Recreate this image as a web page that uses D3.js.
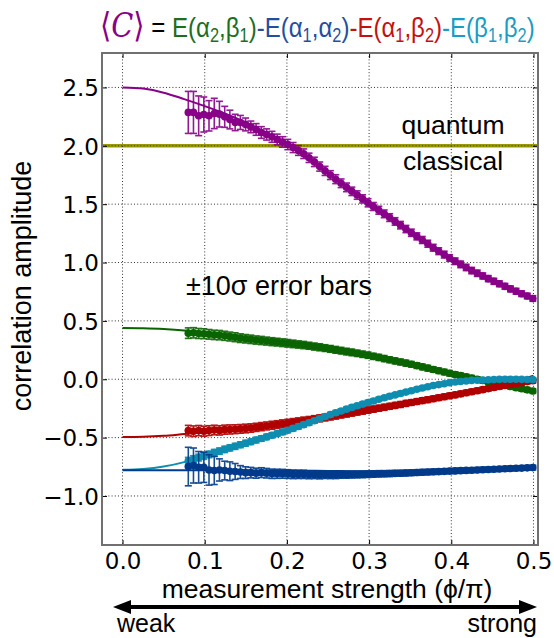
<!DOCTYPE html>
<html><head><meta charset="utf-8">
<script src="https://cdn.jsdelivr.net/npm/d3@7"></script>
<style>body{margin:0;background:#fff}svg{display:block}</style>
</head><body><svg id="c" width="554" height="638"></svg>
<script>
// ---------------- data ----------------
const xTicks = [0.0, 0.1, 0.2, 0.3, 0.4, 0.5];
const yTicks = [-1.0, -0.5, 0.0, 0.5, 1.0, 1.5, 2.0, 2.5];
const classicalBound = 2.0;

const xData = [0.0800,0.0863,0.0926,0.0989,0.1052,0.1116,0.1179,0.1243,0.1306,0.1370,
0.1434,0.1497,0.1561,0.1625,0.1689,0.1753,0.1818,0.1882,0.1946,0.2011,
0.2075,0.2140,0.2204,0.2269,0.2334,0.2399,0.2464,0.2529,0.2594,0.2659,
0.2725,0.2790,0.2855,0.2921,0.2987,0.3052,0.3118,0.3184,0.3250,0.3316,
0.3382,0.3448,0.3514,0.3581,0.3647,0.3714,0.3780,0.3847,0.3914,0.3980,
0.4047,0.4114,0.4181,0.4248,0.4316,0.4383,0.4450,0.4518,0.4585,0.4653,
0.4720,0.4788,0.4856,0.4924,0.4992];

const purpleData = [2.286,2.286,2.257,2.268,2.257,2.277,2.271,2.248,2.225,2.200,
2.200,2.183,2.162,2.140,2.114,2.097,2.077,2.054,2.033,2.011,
1.985,1.960,1.932,1.897,1.862,1.822,1.785,1.749,1.714,1.679,
1.644,1.610,1.578,1.545,1.512,1.480,1.448,1.417,1.385,1.352,
1.320,1.287,1.255,1.224,1.193,1.161,1.127,1.097,1.068,1.039,
1.011,0.984,0.958,0.931,0.908,0.885,0.862,0.839,0.818,0.796,
0.774,0.754,0.733,0.713,0.692];
const purpleErr = [0.18,0.18,0.17,0.15,0.13,0.13,0.11,0.09,0.08,0.07,
0.06,0.055,0.05,0.05,0.05,0.048,0.047,0.046,0.045,0.044,
0.043,0.042,0.041,0.04,0.04,0.039,0.039,0.038,0.038,0.037,
0.037,0.036,0.036,0.035,0.035,0.034,0.034,0.033,0.033,0.032,
0.032,0.031,0.031,0.03,0.03,0.03,0.029,0.029,0.029,0.028,
0.028,0.028,0.027,0.027,0.027,0.026,0.026,0.026,0.025,0.025,
0.025,0.025,0.024,0.024,0.024];

const greenData = [0.395,0.398,0.392,0.390,0.385,0.380,0.378,0.372,0.366,0.360,
0.352,0.347,0.342,0.336,0.332,0.327,0.322,0.318,0.313,0.308,
0.303,0.298,0.293,0.287,0.280,0.274,0.267,0.260,0.252,0.245,
0.237,0.230,0.222,0.214,0.206,0.196,0.187,0.177,0.167,0.157,
0.148,0.138,0.128,0.117,0.106,0.095,0.084,0.073,0.062,0.051,
0.041,0.031,0.020,0.010,-0.001,-0.011,-0.022,-0.033,-0.042,-0.052,
-0.062,-0.072,-0.081,-0.091,-0.101];
const greenErr = [0.045,0.044,0.043,0.042,0.041,0.04,0.04,0.039,0.038,0.038,
0.037,0.036,0.036,0.035,0.035,0.034,0.034,0.033,0.033,0.032,
0.032,0.031,0.031,0.03,0.03,0.03,0.029,0.029,0.029,0.028,
0.028,0.028,0.027,0.027,0.027,0.026,0.026,0.026,0.025,0.025,
0.025,0.025,0.024,0.024,0.024,0.024,0.023,0.023,0.023,0.023,
0.022,0.022,0.022,0.022,0.022,0.021,0.021,0.021,0.021,0.021,
0.02,0.02,0.02,0.02,0.02];

const redData = [-0.440,-0.445,-0.440,-0.445,-0.440,-0.435,-0.438,-0.432,-0.430,-0.428,
-0.425,-0.422,-0.418,-0.412,-0.406,-0.400,-0.394,-0.388,-0.381,-0.375,
-0.369,-0.362,-0.355,-0.349,-0.342,-0.335,-0.328,-0.320,-0.312,-0.304,
-0.296,-0.288,-0.280,-0.272,-0.264,-0.256,-0.248,-0.240,-0.232,-0.224,
-0.216,-0.207,-0.199,-0.191,-0.183,-0.175,-0.167,-0.158,-0.150,-0.142,
-0.134,-0.125,-0.116,-0.107,-0.098,-0.089,-0.080,-0.071,-0.062,-0.053,
-0.045,-0.037,-0.029,-0.020,-0.012];
const redErr = [0.045,0.045,0.044,0.043,0.042,0.041,0.04,0.039,0.039,0.038,
0.037,0.037,0.036,0.035,0.035,0.034,0.034,0.033,0.033,0.032,
0.032,0.031,0.031,0.03,0.03,0.03,0.029,0.029,0.029,0.028,
0.028,0.028,0.027,0.027,0.027,0.026,0.026,0.026,0.025,0.025,
0.025,0.025,0.024,0.024,0.024,0.024,0.023,0.023,0.023,0.023,
0.022,0.022,0.022,0.022,0.022,0.021,0.021,0.021,0.021,0.021,
0.02,0.02,0.02,0.02,0.02];

const cyanData = [-0.699,-0.685,-0.671,-0.657,-0.644,-0.629,-0.616,-0.601,-0.588,-0.575,
-0.561,-0.548,-0.535,-0.521,-0.508,-0.494,-0.480,-0.466,-0.452,-0.437,
-0.421,-0.405,-0.389,-0.373,-0.355,-0.338,-0.320,-0.303,-0.287,-0.272,
-0.256,-0.241,-0.227,-0.213,-0.199,-0.186,-0.172,-0.159,-0.146,-0.134,
-0.122,-0.110,-0.098,-0.086,-0.075,-0.064,-0.054,-0.046,-0.038,-0.029,
-0.024,-0.019,-0.015,-0.010,-0.008,-0.006,-0.004,-0.002,-0.001,0.000,
0.000,0.000,-0.001,-0.002,-0.003];
const cyanErr = [0.03,0.03,0.029,0.029,0.028,0.028,0.027,0.027,0.026,0.026,
0.025,0.025,0.024,0.024,0.023,0.023,0.022,0.022,0.022,0.021,
0.021,0.021,0.02,0.02,0.02,0.02,0.019,0.019,0.019,0.019,
0.018,0.018,0.018,0.018,0.018,0.017,0.017,0.017,0.017,0.017,
0.017,0.016,0.016,0.016,0.016,0.016,0.016,0.016,0.015,0.015,
0.015,0.015,0.015,0.015,0.015,0.015,0.015,0.015,0.015,0.015,
0.015,0.015,0.015,0.015,0.015];

const blueData = [-0.748,-0.739,-0.754,-0.754,-0.777,-0.782,-0.777,-0.782,-0.788,-0.790,
-0.795,-0.800,-0.800,-0.805,-0.800,-0.805,-0.810,-0.810,-0.810,-0.812,
-0.815,-0.815,-0.815,-0.818,-0.818,-0.820,-0.818,-0.820,-0.820,-0.818,
-0.818,-0.817,-0.816,-0.815,-0.813,-0.812,-0.810,-0.809,-0.808,-0.806,
-0.805,-0.803,-0.801,-0.799,-0.797,-0.795,-0.793,-0.791,-0.789,-0.787,
-0.785,-0.783,-0.781,-0.779,-0.777,-0.775,-0.773,-0.771,-0.769,-0.767,
-0.765,-0.763,-0.761,-0.759,-0.757];
const blueErr = [0.165,0.15,0.135,0.13,0.13,0.12,0.095,0.08,0.08,0.068,
0.055,0.05,0.045,0.043,0.042,0.041,0.04,0.039,0.038,0.037,
0.036,0.035,0.035,0.034,0.033,0.033,0.032,0.031,0.031,0.03,
0.03,0.029,0.029,0.028,0.028,0.027,0.027,0.026,0.026,0.025,
0.025,0.025,0.024,0.024,0.024,0.023,0.023,0.023,0.022,0.022,
0.022,0.022,0.021,0.021,0.021,0.021,0.02,0.02,0.02,0.02,
0.02,0.02,0.02,0.02,0.02];

// theory curves
const xTheory = [0,0.025,0.05,0.075,0.1,0.125,0.15,0.175,0.2,0.225,0.25,0.275,0.3,0.325,0.35,0.375,0.4,0.425,0.45,0.475,0.5];
const purpleTheory = [2.50,2.49,2.455,2.40,2.34,2.275,2.20,2.11,2.01,1.89,1.765,1.63,1.505,1.385,1.262,1.14,1.03,0.93,0.845,0.765,0.69];
const greenTheory  = [0.438,0.436,0.430,0.418,0.398,0.375,0.348,0.325,0.308,0.288,0.262,0.235,0.204,0.168,0.130,0.090,0.048,0.007,-0.030,-0.067,-0.102];
const redTheory    = [-0.495,-0.493,-0.485,-0.470,-0.455,-0.440,-0.423,-0.402,-0.380,-0.352,-0.322,-0.291,-0.260,-0.229,-0.198,-0.167,-0.135,-0.100,-0.062,-0.020,0.030];
const cyanTheory   = [-0.776,-0.769,-0.748,-0.710,-0.655,-0.600,-0.548,-0.495,-0.440,-0.378,-0.310,-0.250,-0.196,-0.146,-0.100,-0.058,-0.027,-0.010,-0.002,0.000,-0.003];
const blueTheory   = [-0.780,-0.780,-0.780,-0.780,-0.780,-0.780,-0.781,-0.782,-0.782,-0.783,-0.785,-0.788,-0.790,-0.790,-0.790,-0.788,-0.785,-0.780,-0.773,-0.765,-0.757];

const colors = {purple:"#880088", green:"#0a6400", red:"#b00000", cyan:"#0e8db0", blue:"#003a8a"};

// ---------------- layout ----------------
const svg = d3.select("#c");
const L = 102, R = 538, T = 53, B = 545;
const x = d3.scaleLinear().domain([-0.025, 0.5055]).range([L, R]);
const y = d3.scaleLinear().domain([-1.42, 2.795]).range([B, T]);

// classical bound line
svg.append("line").attr("x1", L).attr("x2", R)
  .attr("y1", y(classicalBound)).attr("y2", y(classicalBound))
  .attr("stroke", "#9a9a00").attr("stroke-width", 3.5);

// grid
const grid = svg.append("g").attr("stroke", "#333").attr("stroke-width", 1).attr("stroke-dasharray", "1,2.2");
xTicks.forEach(t => grid.append("line").attr("x1", x(t)).attr("x2", x(t)).attr("y1", T).attr("y2", B));
yTicks.forEach(t => grid.append("line").attr("x1", L).attr("x2", R).attr("y1", y(t)).attr("y2", y(t)));

// axes with inward ticks
const fmt = d => (d < 0 ? "\u2212" : "") + Math.abs(d).toFixed(1);
const axB = svg.append("g").attr("transform", `translate(0,${B})`)
  .call(d3.axisBottom(x).tickValues(xTicks).tickSize(-5).tickPadding(8).tickFormat(fmt));
const axT = svg.append("g").attr("transform", `translate(0,${T})`)
  .call(d3.axisTop(x).tickValues(xTicks).tickSize(-5).tickFormat(""));
const axL = svg.append("g").attr("transform", `translate(${L},0)`)
  .call(d3.axisLeft(y).tickValues(yTicks).tickSize(-5).tickPadding(3).tickFormat(fmt));
const axR = svg.append("g").attr("transform", `translate(${R},0)`)
  .call(d3.axisRight(y).tickValues(yTicks).tickSize(-5).tickFormat(""));
[axB, axT, axL, axR].forEach(a => {
  a.select(".domain").remove();
  a.selectAll(".tick line").attr("stroke", "#000").attr("stroke-width", 1);
  a.selectAll("text").attr("font-family", "DejaVu Sans").attr("font-size", 23).attr("fill", "#000");
});
axB.selectAll("text").attr("dy", "0.71em");
axL.selectAll("text").attr("dy", "0.36em");

// frame
svg.append("rect").attr("x", L).attr("y", T).attr("width", R - L).attr("height", B - T)
  .attr("fill", "none").attr("stroke", "#707070").attr("stroke-width", 2);

// series
const series = [
  {c: colors.purple, d: purpleData, e: purpleErr, t: purpleTheory},
  {c: colors.green,  d: greenData,  e: greenErr,  t: greenTheory},
  {c: colors.red,    d: redData,    e: redErr,    t: redTheory},
  {c: colors.cyan,   d: cyanData,   e: cyanErr,   t: cyanTheory},
  {c: colors.blue,   d: blueData,   e: blueErr,   t: blueTheory}
];
const line = d3.line().x(d => x(d[0])).y(d => y(d[1])).curve(d3.curveCatmullRom);
series.forEach(s => {
  const g = svg.append("g");
  const pts = xData.map((xv, i) => ({x: xv, v: s.d[i], e: s.e[i]}));
  const eb = g.append("g").attr("stroke", s.c).attr("stroke-width", 1.6).attr("opacity", 0.9);
  pts.forEach(p => {
    eb.append("line").attr("x1", x(p.x)).attr("x2", x(p.x)).attr("y1", y(p.v - p.e)).attr("y2", y(p.v + p.e));
    eb.append("line").attr("x1", x(p.x) - 3.5).attr("x2", x(p.x) + 3.5).attr("y1", y(p.v - p.e)).attr("y2", y(p.v - p.e));
    eb.append("line").attr("x1", x(p.x) - 3.5).attr("x2", x(p.x) + 3.5).attr("y1", y(p.v + p.e)).attr("y2", y(p.v + p.e));
  });
  g.selectAll("circle").data(pts).join("circle")
    .attr("cx", p => x(p.x)).attr("cy", p => y(p.v)).attr("r", 3.8).attr("fill", s.c);
  g.append("path").attr("d", line(xTheory.map((xv, i) => [xv, s.t[i]])))
    .attr("fill", "none").attr("stroke", s.c).attr("stroke-width", 2);
});

// annotations
const lab = (t, xx, yy, anchor, size) => svg.append("text").attr("x", xx).attr("y", yy)
  .attr("text-anchor", anchor).attr("font-family", "Liberation Sans, Arial, sans-serif")
  .attr("font-size", size).attr("fill", "#000").text(t);
lab("quantum", 453, 134, "middle", 26.5);
lab("classical", 453, 170, "middle", 26.5);
lab("\u00b110\u03c3 error bars", 186, 295, "start", 27);
lab("measurement strength (\u03d5/\u03c0)", 327, 598, "middle", 26.5);
lab("weak", 117, 632, "start", 25);
lab("strong", 537, 632, "end", 25);
svg.append("text").attr("transform", "translate(31,286) rotate(-90)")
  .attr("text-anchor", "middle").attr("font-family", "Liberation Sans, Arial, sans-serif")
  .attr("font-size", 27).text("correlation amplitude");

// double arrow
const ay = 607, ax1 = 113, ax2 = 537;
svg.append("line").attr("x1", ax1 + 8).attr("x2", ax2 - 8).attr("y1", ay).attr("y2", ay)
  .attr("stroke", "#000").attr("stroke-width", 4);
svg.append("path").attr("d", `M${ax1},${ay} L${ax1 + 18},${ay - 7} L${ax1 + 18},${ay + 7} Z`).attr("fill", "#000");
svg.append("path").attr("d", `M${ax2},${ay} L${ax2 - 18},${ay - 7} L${ax2 - 18},${ay + 7} Z`).attr("fill", "#000");

// title
const title = svg.append("text").attr("transform", "translate(100,37) scale(0.962,1.14)")
  .attr("font-family", "Liberation Sans, Arial, sans-serif").attr("font-size", 25);
const tcol = {g: "#1d6e1d", b: "#1f4f9e", r: "#c41010", c: "#1a9cc4"};
title.append("tspan").attr("font-family", "DejaVu Serif").attr("font-size", 30).attr("fill", colors.purple).text("\u27e8");
title.append("tspan").attr("font-family", "DejaVu Serif").attr("font-style", "italic").attr("font-size", 30).attr("fill", colors.purple).text("C");
title.append("tspan").attr("font-family", "DejaVu Serif").attr("font-size", 30).attr("fill", colors.purple).text("\u27e9");
title.append("tspan").attr("fill", "#000").text(" = ");
const parts = [
  [tcol.g, "E(\u03b1", "2", ",\u03b2", "1", ")"],
  [tcol.b, "-E(\u03b1", "1", ",\u03b1", "2", ")"],
  [tcol.r, "-E(\u03b1", "1", ",\u03b2", "2", ")"],
  [tcol.c, "-E(\u03b2", "1", ",\u03b2", "2", ")"]
];
parts.forEach(p => {
  title.append("tspan").attr("fill", p[0]).text(p[1]);
  title.append("tspan").attr("fill", p[0]).attr("font-size", 17).attr("dy", 4.5).text(p[2]);
  title.append("tspan").attr("fill", p[0]).attr("dy", -4.5).text(p[3]);
  title.append("tspan").attr("fill", p[0]).attr("font-size", 17).attr("dy", 4.5).text(p[4]);
  title.append("tspan").attr("fill", p[0]).attr("dy", -4.5).text(p[5]);
});
</script></body></html>
